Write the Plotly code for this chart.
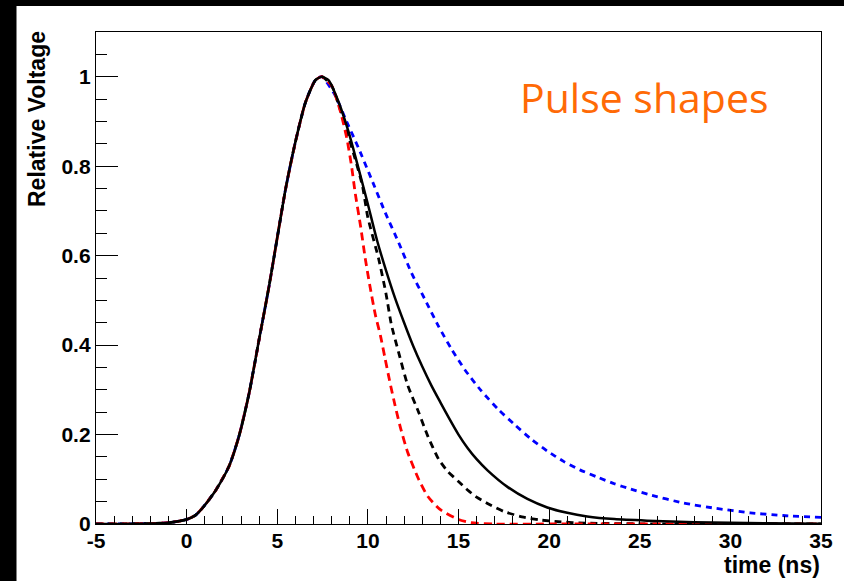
import plotly.graph_objects as go

# Common leading edge of all pulses (time in ns, relative voltage)
rise_t = [-5.0, -4.0, -3.0, -2.0, -1.0, 0.0, 0.5, 0.9, 1.6, 2.35, 2.9, 3.45, 4.0, 4.55, 5.0, 5.46, 6.0, 6.56, 7.1, 7.45]
rise_v = [0.0, 0.0, 0.0005, 0.001, 0.003, 0.01, 0.02, 0.037, 0.075, 0.13, 0.198, 0.293, 0.413, 0.532, 0.64, 0.749, 0.854, 0.943, 0.992, 1.0]

# Trailing edges
solid_t = [7.84, 8.39, 8.94, 9.49, 10.0, 10.5, 11.0, 11.5, 12.0, 12.5, 13.0, 13.5, 14.0, 14.5, 15.0, 15.5, 16.0, 16.6, 17.7, 18.8, 19.9, 21.0, 22.1, 23.6, 25.4, 28.0, 32.0, 35.0]
solid_v = [0.992, 0.943, 0.876, 0.794, 0.715, 0.635, 0.567, 0.505, 0.45, 0.398, 0.352, 0.31, 0.272, 0.235, 0.2, 0.17, 0.145, 0.12, 0.083, 0.056, 0.037, 0.025, 0.017, 0.011, 0.0075, 0.004, 0.0015, 0.0008]

dashed_t = [8.0, 8.4, 8.9, 9.3, 9.7, 10.0, 10.6, 11.0, 11.3, 11.7, 12.2, 12.8, 13.3, 13.9, 14.4, 15.0, 15.5, 16.0, 16.6, 17.5, 18.5, 19.5, 20.5, 22.0, 25.0, 30.0, 35.0]
dashed_v = [0.98, 0.936, 0.87, 0.816, 0.756, 0.685, 0.592, 0.515, 0.445, 0.383, 0.31, 0.25, 0.197, 0.145, 0.118, 0.095, 0.076, 0.06, 0.046, 0.028, 0.016, 0.009, 0.005, 0.002, 0.0005, 0.0, 0.0]

red_t = [8.0, 8.5, 8.85, 9.1, 9.3, 9.6, 9.85, 10.1, 10.4, 10.7, 10.95, 11.2, 11.5, 11.8, 12.2, 12.8, 13.3, 14.0, 15.0, 15.7, 17.0, 20.0, 25.0, 30.0, 35.0]
red_v = [0.98, 0.92, 0.86, 0.80, 0.74, 0.665, 0.595, 0.535, 0.47, 0.42, 0.37, 0.32, 0.265, 0.215, 0.16, 0.10, 0.062, 0.032, 0.01, 0.003, 0.0, 0.0, 0.0, 0.0, 0.0]

blue_t = [8.2, 8.76, 9.5, 10.2, 10.95, 11.7, 12.4, 13.15, 13.9, 14.6, 15.35, 16.25, 17.2, 18.1, 19.0, 19.9, 20.8, 21.7, 22.65, 23.6, 24.5, 25.5, 27.4, 29.2, 31.1, 32.9, 35.0]
blue_v = [0.958, 0.906, 0.839, 0.771, 0.697, 0.629, 0.562, 0.502, 0.442, 0.392, 0.345, 0.298, 0.256, 0.222, 0.19, 0.163, 0.140, 0.121, 0.105, 0.09, 0.078, 0.066, 0.047, 0.035, 0.025, 0.019, 0.015]

x_ticks = [-5, 0, 5, 10, 15, 20, 25, 30, 35]
x_tick_text = ["-5", "0", "5", "10", "15", "20", "25", "30", "35"]
y_ticks = [0, 0.2, 0.4, 0.6, 0.8, 1.0]
y_tick_text = ["0", "0.2", "0.4", "0.6", "0.8", "1"]

W, H = 844, 581
ML, MR, MT, MB = 96, 23, 32, 57
PW, PH = W - ML - MR, H - MT - MB

fig = go.Figure()

def pulse(tail_t, tail_v, color, dash, width):
    fig.add_trace(go.Scatter(
        x=rise_t + tail_t, y=rise_v + tail_v, mode="lines",
        line=dict(color=color, dash=dash, width=width, shape="spline", smoothing=0.6),
        showlegend=False, hoverinfo="skip",
    ))

pulse(blue_t, blue_v, "#0000ff", "6px,5px", 2.8)
pulse(dashed_t, dashed_v, "#000000", "7px,5px", 2.8)
pulse(red_t, red_v, "#ff0000", "8px,5px", 2.8)
pulse(solid_t, solid_v, "#000000", "solid", 2.5)

tick_font = dict(family="Liberation Sans", size=21, color="black", weight="bold")
title_font = dict(family="Liberation Sans", size=23, color="black", weight="bold")

fig.update_xaxes(
    range=[-5, 35], tickmode="array", tickvals=x_ticks, ticktext=x_tick_text,
    ticks="inside", ticklen=15, tickwidth=1, tickcolor="black",
    minor=dict(ticks="inside", dtick=1, ticklen=8, tickwidth=1, tickcolor="black"),
    showline=True, linecolor="black", linewidth=1.3, mirror=True,
    showgrid=False, zeroline=False, tickfont=tick_font, ticklabelstandoff=-2,
)
fig.update_yaxes(
    range=[0, 1.1], tickmode="array", tickvals=y_ticks, ticktext=y_tick_text,
    ticks="inside", ticklen=22, tickwidth=1, tickcolor="black",
    minor=dict(ticks="inside", dtick=0.05, tick0=0, ticklen=11, tickwidth=1, tickcolor="black"),
    showline=True, linecolor="black", linewidth=1.3, mirror=True,
    showgrid=False, zeroline=False, tickfont=tick_font,
)

def px_x(p):
    return (p - ML) / PW

def px_y(p):
    return (H - MB - p) / PH

# dark frame strips along the top and left edges of the page
fig.add_shape(type="rect", xref="paper", yref="paper",
              x0=px_x(0), x1=px_x(W), y0=px_y(6), y1=px_y(0),
              fillcolor="black", line_width=0, layer="above")
fig.add_shape(type="rect", xref="paper", yref="paper",
              x0=px_x(0), x1=px_x(16.5), y0=px_y(H), y1=px_y(0),
              fillcolor="black", line_width=0, layer="above")

fig.add_annotation(
    text="Relative Voltage", textangle=-90, showarrow=False,
    xref="paper", yref="paper", x=px_x(37), y=px_y(29),
    xanchor="center", yanchor="top", font=title_font,
)
fig.add_annotation(
    text="time (ns)", showarrow=False,
    xref="paper", yref="paper", x=px_x(822), y=px_y(565),
    xanchor="right", yanchor="middle", font=title_font,
)
fig.add_annotation(
    text="Pulse shapes", showarrow=False,
    xref="paper", yref="paper", x=px_x(644), y=px_y(97),
    xanchor="center", yanchor="middle",
    font=dict(family="Open Sans", size=41, color="#ff6a06"),
)

fig.update_layout(
    width=W, height=H,
    margin=dict(l=ML, r=MR, t=MT, b=MB),
    paper_bgcolor="white", plot_bgcolor="white",
)

fig.write_html("out.html")
